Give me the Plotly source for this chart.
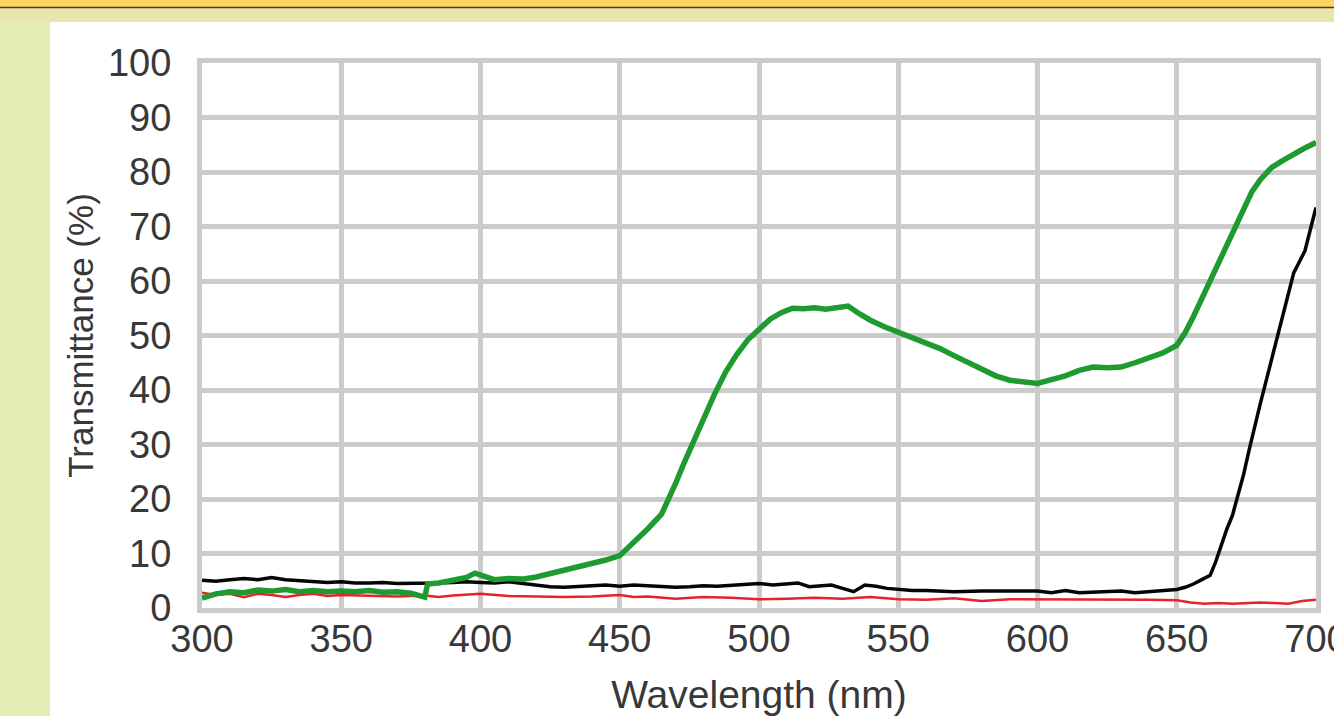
import plotly.graph_objects as go

# ---------------- data ----------------
green_wl = [300, 305, 310, 315, 320, 325, 330, 335, 340, 345, 350, 355, 360, 365, 370, 375, 380,
            381, 385, 390, 395, 398, 400, 405, 410, 415, 420, 425, 430, 435, 440, 445, 450, 455,
            460, 465, 468, 470, 473, 476, 480, 484, 488, 492, 496, 500, 504, 508, 512, 516, 520,
            524, 528, 532, 536, 540, 545, 550, 555, 560, 565, 570, 575, 580, 585, 590, 595, 600,
            605, 610, 615, 620, 625, 630, 635, 640, 645, 650, 653, 656, 659, 662, 665, 668, 671,
            674, 677, 680, 684, 688, 692, 696, 700]
green_t = [1.8, 2.6, 3.0, 2.8, 3.3, 3.1, 3.4, 3.0, 3.2, 3.0, 3.1, 3.0, 3.2, 2.9, 3.0, 2.7, 2.0,
           4.4, 4.6, 5.0, 5.6, 6.4, 6.0, 5.2, 5.4, 5.3, 5.7, 6.3, 6.8, 7.4, 8.0, 8.8, 9.6, 12.0,
           14.5, 17.2, 20.3, 22.8, 26.5, 30.0, 34.5, 39.2, 43.3, 46.5, 49.2, 51.2, 53.0, 54.2, 55.0,
           54.9, 55.1, 54.8, 55.2, 55.4, 54.0, 52.8, 51.6, 50.6, 49.5, 48.4, 47.6, 46.3, 45.0, 43.8,
           42.6, 41.8, 41.6, 41.2, 41.9, 42.6, 43.6, 44.2, 44.1, 44.2, 45.0, 45.8, 46.8, 48.2, 50.5,
           53.5, 56.8, 60.0, 63.3, 66.8, 70.0, 73.2, 76.4, 78.6, 80.8, 82.1, 83.3, 84.4, 85.4]

black_wl = [300, 305, 310, 315, 320, 325, 330, 335, 340, 345, 350, 355, 360, 365, 370, 375, 380,
            385, 390, 395, 400, 405, 410, 415, 420, 425, 430, 435, 440, 445, 450, 455, 460, 465,
            470, 475, 480, 485, 490, 495, 500, 505, 510, 514, 518, 522, 526, 530, 534, 538, 542,
            546, 550, 555, 560, 570, 580, 590, 600, 605, 610, 615, 620, 625, 630, 635, 640, 645,
            650, 653, 656, 659, 662, 664, 666, 668, 670, 672, 674, 676, 678, 680, 682, 684, 686,
            688, 690, 692, 694, 696, 698, 700]
black_t = [5.1, 4.9, 5.2, 5.4, 5.2, 5.6, 5.2, 5.0, 4.9, 4.7, 4.8, 4.6, 4.6, 4.7, 4.5, 4.5, 4.6,
           4.6, 4.7, 4.8, 4.7, 4.6, 4.8, 4.5, 4.3, 3.9, 3.8, 4.0, 4.1, 4.2, 4.0, 4.2, 4.1, 4.0,
           3.8, 3.9, 4.1, 4.0, 4.2, 4.3, 4.5, 4.2, 4.4, 4.6, 3.9, 4.0, 4.2, 3.6, 3.0, 4.2, 4.0,
           3.6, 3.4, 3.2, 3.2, 3.0, 3.1, 3.1, 3.1, 2.8, 3.2, 2.8, 2.9, 2.9, 3.1, 2.8, 3.0, 3.1,
           3.4, 3.8, 4.4, 5.2, 6.0, 8.5, 11.5, 14.5, 17.0, 20.5, 24.5, 29.0, 33.5, 37.5, 41.5,
           45.5, 50.0, 54.0, 58.0, 61.5, 63.5, 65.5, 69.5, 73.5]

red_wl = [300, 305, 310, 315, 320, 325, 330, 335, 340, 345, 350, 360, 370, 380, 385, 390, 400,
          410, 420, 430, 440, 450, 455, 460, 470, 480, 490, 500, 510, 520, 530, 540, 550, 560,
          570, 580, 590, 600, 610, 620, 630, 640, 650, 655, 660, 665, 670, 675, 680, 685, 690,
          695, 700]
red_t = [2.8, 2.4, 2.6, 2.0, 2.6, 2.4, 2.0, 2.4, 2.6, 2.2, 2.4, 2.3, 2.1, 2.3, 2.0, 2.3, 2.6,
         2.2, 2.1, 2.0, 2.1, 2.4, 2.0, 2.1, 1.7, 2.0, 1.9, 1.6, 1.7, 1.9, 1.7, 2.0, 1.6, 1.5,
         1.8, 1.3, 1.6, 1.6, 1.5, 1.6, 1.5, 1.5, 1.4, 1.0, 0.8, 0.9, 0.8, 0.9, 1.0, 0.9, 0.8,
         1.3, 1.5]

x_ticks = [300, 350, 400, 450, 500, 550, 600, 650, 700]
y_ticks = [0, 10, 20, 30, 40, 50, 60, 70, 80, 90, 100]
x_title = "Wavelength (nm)"
y_title = "Transmittance (%)"

# ---------------- layout geometry ----------------
W, H = 1334, 716
ML, MR, MT, MB = 202, 18, 63, 108
PW, PH = W - ML - MR, H - MT - MB


def px_x(px):
    return (px - ML) / PW


def px_y(py):
    return (H - MB - py) / PH


FONT = "Liberation Sans, Arial, sans-serif"
TXT = "#383838"
GRID = "#cbcbcb"

fig = go.Figure()
fig.add_trace(go.Scatter(x=red_wl, y=red_t, mode="lines",
                         line=dict(color="#e8222c", width=2.5), name="red"))
fig.add_trace(go.Scatter(x=black_wl, y=black_t, mode="lines",
                         line=dict(color="#050505", width=3.5), name="black"))
fig.add_trace(go.Scatter(x=green_wl, y=green_t, mode="lines",
                         line=dict(color="#1f9a30", width=5.5), name="green"))

shapes = [
    # white panel
    dict(type="rect", xref="paper", yref="paper", layer="below",
         x0=px_x(50), x1=px_x(W + 5), y0=px_y(H + 5), y1=px_y(22),
         fillcolor="white", line=dict(width=0)),
    # top pale strip
    dict(type="rect", xref="paper", yref="paper", layer="below",
         x0=px_x(-5), x1=px_x(W + 5), y0=px_y(22), y1=px_y(7),
         fillcolor="#e8e6ac", line=dict(width=0)),
    # top orange band
    dict(type="rect", xref="paper", yref="paper", layer="below",
         x0=px_x(-5), x1=px_x(W + 5), y0=px_y(7), y1=px_y(-5),
         fillcolor="#fcd45e", line=dict(width=0)),
    # dark line under band
    dict(type="line", xref="paper", yref="paper", layer="below",
         x0=px_x(-5), x1=px_x(W + 5), y0=px_y(7.5), y1=px_y(7.5),
         line=dict(color="#4a3c14", width=1.5)),
]

fig.update_layout(
    width=W, height=H,
    margin=dict(l=ML, r=MR, t=MT, b=MB, pad=0, autoexpand=False),
    paper_bgcolor="#e4ecb4",
    plot_bgcolor="white",
    showlegend=False,
    shapes=shapes,
    font=dict(family=FONT, color=TXT),
)
fig.update_xaxes(
    range=[300, 700], tickvals=x_ticks, ticktext=[str(v) for v in x_ticks],
    showgrid=True, gridcolor=GRID, gridwidth=5, zeroline=False,
    showline=True, linecolor=GRID, linewidth=5, mirror=True,
    ticks="", ticklabelstandoff=-7, ticklabeloverflow="allow", automargin=False,
    tickfont=dict(size=38, family=FONT, color=TXT),
    title=dict(text=x_title, font=dict(size=39, family=FONT, color=TXT), standoff=30),
)
fig.update_yaxes(
    range=[0, 100], tickvals=y_ticks, ticktext=[str(v) for v in y_ticks],
    showgrid=True, gridcolor=GRID, gridwidth=5, zeroline=False,
    showline=True, linecolor=GRID, linewidth=5, mirror=True,
    ticks="", ticklabelstandoff=18, ticklabeloverflow="allow", automargin=False,
    tickfont=dict(size=38, family=FONT, color=TXT),
    title=dict(text=y_title, font=dict(size=35, family=FONT, color=TXT), standoff=5),
)

fig.write_html("out.html",
               config={"displayModeBar": False},
               post_script="document.body.style.margin='0';document.body.style.overflow='hidden';")
